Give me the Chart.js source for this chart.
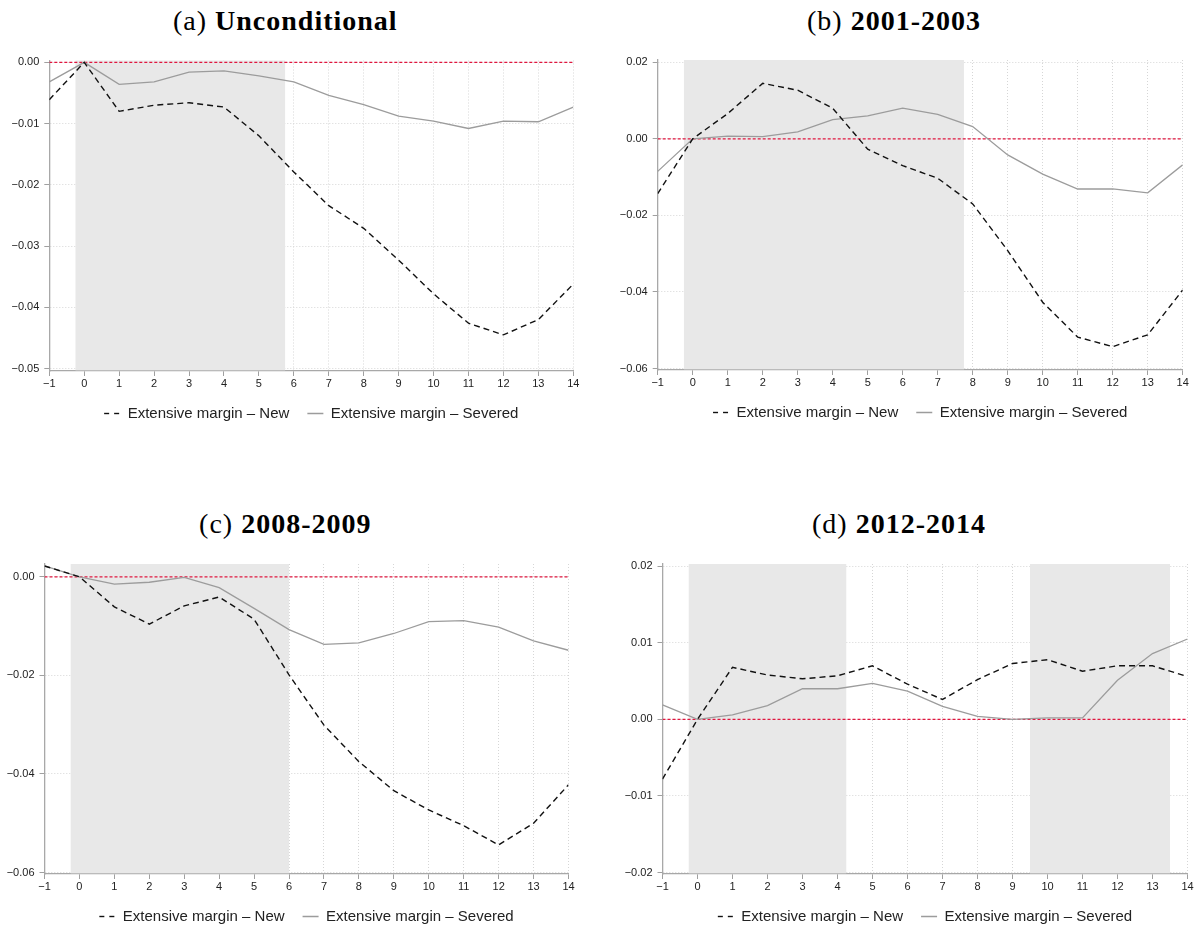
<!DOCTYPE html>
<html><head><meta charset="utf-8">
<script src="https://cdn.jsdelivr.net/npm/chart.js@4.4.1/dist/chart.umd.min.js"></script>
<style>
html,body{margin:0;padding:0;background:#fff;}
body{width:1203px;height:928px;position:relative;overflow:hidden;}
canvas{position:absolute;}
.title{position:absolute;width:400px;text-align:center;font-family:'Liberation Serif','Times New Roman',serif;font-size:28px;line-height:34px;letter-spacing:1px;color:#000;white-space:nowrap;font-weight:normal;}
.title b{font-weight:bold;}
</style></head><body>
<div class="title" id="t0"></div><div class="title" id="t1"></div>
<div class="title" id="t2"></div><div class="title" id="t3"></div>
<canvas id="c0"></canvas><canvas id="c1"></canvas>
<canvas id="c2"></canvas><canvas id="c3"></canvas>
<script>
// ---- data ----
const periods = [-1,0,1,2,3,4,5,6,7,8,9,10,11,12,13,14];
const xTickLabels = ['\u22121','0','1','2','3','4','5','6','7','8','9','10','11','12','13','14'];
const seriesNames = ['Extensive margin \u2013 New','Extensive margin \u2013 Severed'];
const titleTags = ['(a)','(b)','(c)','(d)'];
const titleNames = ['Unconditional','2001-2003','2008-2009','2012-2014'];

const newA = [-0.0061,0,-0.0080,-0.0070,-0.0066,-0.0073,-0.0120,-0.0179,-0.0234,-0.0271,-0.0323,-0.0378,-0.0426,-0.0445,-0.0420,-0.0362];
const sevA = [-0.0032,0,-0.0036,-0.0032,-0.0016,-0.0014,-0.0022,-0.0032,-0.0054,-0.0069,-0.0088,-0.0096,-0.0108,-0.0096,-0.0097,-0.0073];
const newB = [-0.0143,0,0.0066,0.0145,0.0127,0.0080,-0.0027,-0.0070,-0.0103,-0.0170,-0.0292,-0.0427,-0.0518,-0.0543,-0.0512,-0.0395];
const sevB = [-0.0085,0,0.0007,0.0006,0.0018,0.0050,0.0060,0.0080,0.0064,0.0032,-0.0042,-0.0092,-0.0131,-0.0131,-0.0141,-0.0068];
const newC = [0.0022,0,-0.0061,-0.0096,-0.0059,-0.0041,-0.0086,-0.0199,-0.0301,-0.0375,-0.0434,-0.0473,-0.0505,-0.0544,-0.0500,-0.0422];
const sevC = [0.0022,0,-0.0015,-0.0011,-0.0001,-0.0022,-0.0064,-0.0107,-0.0137,-0.0134,-0.0115,-0.0091,-0.0089,-0.0102,-0.0130,-0.0149];
const newD = [-0.0078,0,0.0068,0.0058,0.0053,0.0057,0.0070,0.0046,0.0026,0.0052,0.0073,0.0078,0.0063,0.0070,0.0070,0.0056];
const sevD = [0.0019,0,0.0006,0.0018,0.0040,0.0040,0.0047,0.0037,0.0017,0.0004,0.0000,0.0002,0.0002,0.0051,0.0086,0.0105];

const yTicksA = [0,-0.01,-0.02,-0.03,-0.04,-0.05];
const yLabelsA = ['0.00','\u22120.01','\u22120.02','\u22120.03','\u22120.04','\u22120.05'];
const yTicksB = [0.02,0,-0.02,-0.04,-0.06];
const yLabelsB = ['0.02','0.00','\u22120.02','\u22120.04','\u22120.06'];
const yTicksC = [0,-0.02,-0.04,-0.06];
const yLabelsC = ['0.00','\u22120.02','\u22120.04','\u22120.06'];
const yTicksD = [0.02,0.01,0,-0.01,-0.02];
const yLabelsD = ['0.02','0.01','0.00','\u22120.01','\u22120.02'];

const yRangeA = [-0.0504, 0.0003];
const yRangeB = [-0.0604, 0.0206];
const yRangeC = [-0.0603, 0.0026];
const yRangeD = [-0.0202, 0.0203];

const shadeA = [[-0.25, 5.75]];
const shadeB = [[-0.25, 7.75]];
const shadeC = [[-0.25, 6]];
const shadeD = [[-0.25, 4.25],[9.5, 13.5]];

// ---- layout (positions only) ----
const frames = [
  {x0:0,   y0:40,  w:594, h:391, pl:7.3,  pr:20.7, pt:20.5, yw:42, tx:285.3, ty:3.5},
  {x0:600, y0:40,  w:603, h:390, pl:15.7, pr:20.3, pt:20,   yw:42, tx:894,   ty:3.5},
  {x0:0,   y0:540, w:589, h:394, pl:2.5,  pr:20.5, pt:24,   yw:42, tx:285.3, ty:507},
  {x0:600, y0:540, w:603, h:394, pl:20.5, pr:15.5, pt:24,   yw:42, tx:899,   ty:507}
];

const panels = [
  {n:newA, s:sevA, yt:yTicksA, yl:yLabelsA, yr:yRangeA, sh:shadeA},
  {n:newB, s:sevB, yt:yTicksB, yl:yLabelsB, yr:yRangeB, sh:shadeB},
  {n:newC, s:sevC, yt:yTicksC, yl:yLabelsC, yr:yRangeC, sh:shadeC},
  {n:newD, s:sevD, yt:yTicksD, yl:yLabelsD, yr:yRangeD, sh:shadeD}
];

Chart.defaults.font.family = "'Liberation Sans', Arial, sans-serif";
Chart.defaults.color = '#222';

const shadePlugin = {
  id: 'shade',
  beforeDatasetsDraw(chart, args, opts) {
    const {ctx, chartArea: a, scales: {x}} = chart;
    ctx.save();
    ctx.fillStyle = '#e8e8e8';
    for (const [s, e] of opts.spans) {
      const p0 = x.getPixelForValue(s), p1 = x.getPixelForValue(e);
      ctx.fillRect(p0, a.top, p1 - p0, a.bottom - a.top - 0.7);
    }
    ctx.restore();
  }
};

const gridOpts = {color:'#d6d6d6', lineWidth:1, tickLength:5, tickColor:'#a0a0a0', drawTicks:true};
const borderOpts = {display:true, color:'#a8a8a8', width:1.3, dash:[1,2]};
const legendDashes = [[5,5], []];

panels.forEach((p, k) => {
  const f = frames[k];
  const t = document.getElementById('t' + k);
  t.innerHTML = titleTags[k] + ' <b>' + titleNames[k] + '</b>';
  t.style.left = (f.tx - 200) + 'px';
  t.style.top = f.ty + 'px';

  const cv = document.getElementById('c' + k);
  cv.width = f.w; cv.height = f.h;
  cv.style.left = f.x0 + 'px'; cv.style.top = f.y0 + 'px';
  cv.style.width = f.w + 'px'; cv.style.height = f.h + 'px';

  new Chart(cv, {
    type: 'line',
    data: {
      datasets: [
        {label: seriesNames[0], data: periods.map((x, i) => ({x, y: p.n[i]})),
         borderColor:'#111', borderWidth:1.4, borderDash:[6,4], pointRadius:0, tension:0, fill:false},
        {label: seriesNames[1], data: periods.map((x, i) => ({x, y: p.s[i]})),
         borderColor:'#9c9c9c', borderWidth:1.3, pointRadius:0, tension:0, fill:false},
        {label: 'zero', data: [{x: periods[0], y: 0}, {x: periods[periods.length - 1], y: 0}],
         borderColor:'#e0163f', borderWidth:1.3, borderDash:[3,2], pointRadius:0, tension:0, fill:false}
      ]
    },
    options: {
      responsive: false, animation: false, devicePixelRatio: 1,
      events: [],
      layout: {padding: {left: f.pl, right: f.pr, top: f.pt, bottom: 0}},
      scales: {
        x: {
          type: 'linear', min: periods[0], max: periods[periods.length - 1],
          afterBuildTicks: s => { s.ticks = periods.map(v => ({value: v})); },
          afterFit: s => { s.height = 17; },
          ticks: {autoSkip:false, maxRotation:0, padding:1, color:'#222', font:{size:11},
                  callback: v => xTickLabels[periods.indexOf(v)]},
          grid: gridOpts, border: borderOpts
        },
        y: {
          type: 'linear', min: p.yr[0], max: p.yr[1],
          afterBuildTicks: s => { s.ticks = p.yt.map(v => ({value: v})); },
          afterFit: s => { s.width = f.yw; },
          ticks: {padding:5, color:'#222', font:{size:11},
                  callback: v => { const i = p.yt.findIndex(t => Math.abs(t - v) < 1e-9); return i >= 0 ? p.yl[i] : ''; }},
          grid: gridOpts, border: borderOpts
        }
      },
      plugins: {
        shade: {spans: p.sh},
        tooltip: {enabled: false},
        title: {display: false},
        legend: {
          position: 'bottom',
          fullSize: false,
          labels: {
            usePointStyle: true, pointStyleWidth: 16,
            padding: 18, color: '#222', font: {size: 15},
            generateLabels: chart => chart.data.datasets.slice(0, 2).map((ds, i) => ({
              text: ds.label, datasetIndex: i, hidden: false,
              strokeStyle: ds.borderColor, fillStyle: ds.borderColor,
              lineWidth: ds.borderWidth, lineDash: legendDashes[i],
              pointStyle: 'line', fontColor: '#222'
            }))
          }
        }
      }
    },
    plugins: [shadePlugin]
  });
});
</script>
</body></html>
